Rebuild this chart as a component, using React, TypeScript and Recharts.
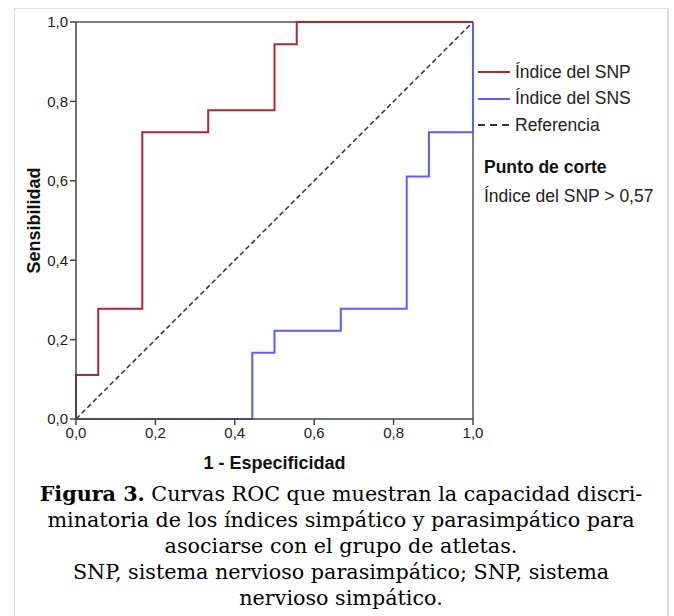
import { LineChart, Line, XAxis, YAxis, ReferenceLine, Label } from 'recharts'

// ROC points (1 - especificidad, sensibilidad)
const snpFpr = [0, 0, 0.056, 0.167, 0.333, 0.5, 0.556, 1]
const snpSens = [0, 0.111, 0.278, 0.722, 0.778, 0.944, 1, 1]
const snsFpr = [0, 0.444, 0.5, 0.667, 0.833, 0.889, 1, 1]
const snsSens = [0, 0.167, 0.222, 0.278, 0.611, 0.722, 0.722, 1]
const refFpr = [0, 1]
const refSens = [0, 1]
const axisTicks = [0, 0.2, 0.4, 0.6, 0.8, 1]

const legendItems = [
  { name: 'Índice del SNP', color: '#b3262c', dash: '' },
  { name: 'Índice del SNS', color: '#5c5cff', dash: '' },
  { name: 'Referencia', color: '#333', dash: '7 5' },
]

const toPoints = (xs: number[], ys: number[]) => xs.map((x, i) => ({ x, y: ys[i] }))
const fmt = (v: number) => v.toFixed(1).replace('.', ',')

const tickStyle = { fontSize: 15, fill: '#222', fontFamily: 'Liberation Sans, Arial, sans-serif' }
const titleStyle = { fontSize: 18, fontWeight: 700, fill: '#111', fontFamily: 'Liberation Sans, Arial, sans-serif' }

export default function App() {
  return (
    <div style={{ position: 'absolute', left: 0, top: 0, width: 674, height: 616, overflow: 'hidden', background: '#fff' }}>
      <div style={{ position: 'absolute', left: 14, top: 8, width: 652, height: 620, border: '1px solid #dcdcdc', borderRightWidth: 2, borderBottom: 'none' }} />

      <div style={{ position: 'absolute', left: 0, top: 0 }}>
        <LineChart width={674} height={480} margin={{ top: 22, right: 201, left: 16, bottom: 31 }}>
          <XAxis
            type="number"
            dataKey="x"
            domain={[0, 1]}
            ticks={axisTicks}
            tickFormatter={fmt}
            tick={tickStyle}
            tickSize={6}
            height={30}
            axisLine={{ stroke: '#444', strokeWidth: 1.5 }}
            tickLine={{ stroke: '#444', strokeWidth: 1.5 }}
          >
            <Label value="1 - Especificidad" position="bottom" offset={7} style={titleStyle} />
          </XAxis>
          <YAxis
            type="number"
            dataKey="y"
            domain={[0, 1]}
            ticks={axisTicks}
            tickFormatter={fmt}
            tick={tickStyle}
            tickSize={6}
            width={60}
            axisLine={{ stroke: '#444', strokeWidth: 1.5 }}
            tickLine={{ stroke: '#444', strokeWidth: 1.5 }}
          >
            <Label value="Sensibilidad" angle={-90} position="insideLeft" offset={18} style={{ ...titleStyle, textAnchor: 'middle' }} />
          </YAxis>
          <ReferenceLine y={1} stroke="#555" strokeWidth={1.5} />
          <ReferenceLine x={1} stroke="#555" strokeWidth={1.5} />
          <Line
            data={toPoints(refFpr, refSens)}
            dataKey="y"
            type="linear"
            stroke="#333"
            strokeWidth={1.5}
            strokeDasharray="5 3"
            dot={false}
            isAnimationActive={false}
          />
          <Line
            data={toPoints(snsFpr, snsSens)}
            dataKey="y"
            type="stepAfter"
            stroke="#5c5cff"
            strokeWidth={2}
            dot={false}
            isAnimationActive={false}
          />
          <Line
            data={toPoints(snpFpr, snpSens)}
            dataKey="y"
            type="stepAfter"
            stroke="#b3262c"
            strokeWidth={2}
            dot={false}
            isAnimationActive={false}
          />
        </LineChart>
      </div>

      <div style={{ position: 'absolute', left: 478, top: 59, fontFamily: 'Liberation Sans, Arial, sans-serif', fontSize: 17.5, color: '#222' }}>
        {legendItems.map((it) => (
          <div key={it.name} style={{ display: 'flex', alignItems: 'center', height: 26.5 }}>
            <svg width={34} height={4} style={{ marginRight: 3 }}>
              <line x1={0} y1={2} x2={32} y2={2} stroke={it.color} strokeWidth={2} strokeDasharray={it.dash || undefined} />
            </svg>
            <span>{it.name}</span>
          </div>
        ))}
        <div style={{ marginTop: 18, marginLeft: 6, fontWeight: 700, color: '#111' }}>Punto de corte</div>
        <div style={{ marginTop: 8, marginLeft: 6 }}>Índice del SNP &gt; 0,57</div>
      </div>

      <div style={{ position: 'absolute', left: 14, top: 481, width: 654, textAlign: 'center', fontFamily: 'DejaVu Serif, serif', fontSize: 20.7, lineHeight: '26px', color: '#000' }}>
        <b>Figura 3.</b> Curvas ROC que muestran la capacidad discri-
        <br />
        minatoria de los índices simpático y parasimpático para
        <br />
        asociarse con el grupo de atletas.
        <br />
        SNP, sistema nervioso parasimpático; SNP, sistema
        <br />
        nervioso simpático.
      </div>
    </div>
  )
}
